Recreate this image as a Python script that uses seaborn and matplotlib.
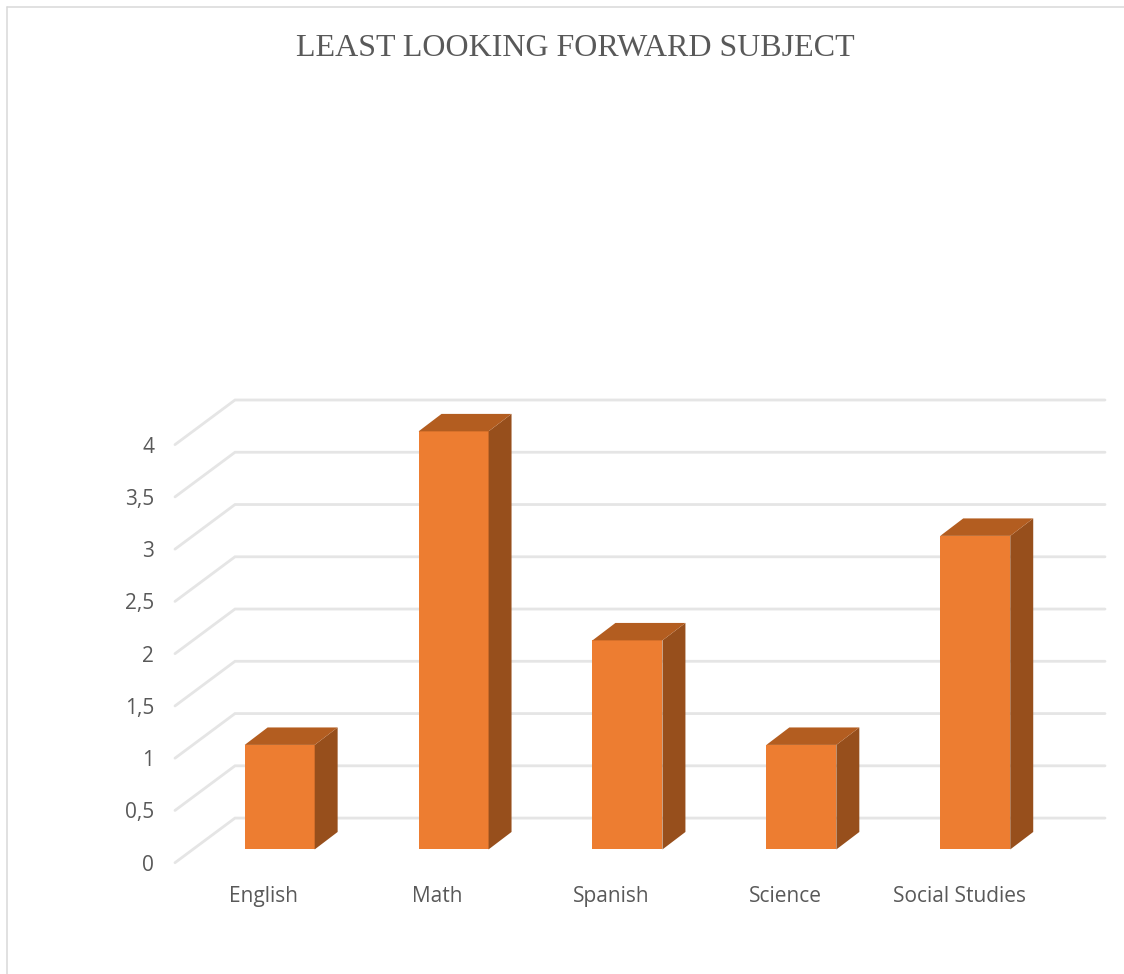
import matplotlib
matplotlib.use("Agg")
import matplotlib.pyplot as plt
from matplotlib.lines import Line2D
from matplotlib.patches import Polygon
import numpy as np
import pandas as pd
import seaborn as sns

subjects = ["English", "Math", "Spanish", "Science", "Social Studies"]
votes = [1, 4, 2, 1, 3]
y_ticks = [0, 0.5, 1, 1.5, 2, 2.5, 3, 3.5, 4]
y_labels = ["0", "0,5", "1", "1,5", "2", "2,5", "3", "3,5", "4"]

W, H = 1124, 974
TEXT = "#595959"
GRID = "#e5e5e5"
FRONT = "#ed7d31"
SIDE = "#974f1c"
TOP = "#b35d20"

# fake 3D depth, in data units
DX, DY = 0.132, 0.167
WALL_UP, FLOOR_DOWN = 0.30, 0.127
X_LEFT, X_BACK, X_RIGHT = -0.602, -0.257, 4.746

sns.set_theme(style="white")
plt.rcParams["font.family"] = ["Open Sans", "DejaVu Sans"]

df = pd.DataFrame({"subject": subjects, "votes": votes})

fig = plt.figure(figsize=(W / 100, H / 100), dpi=100)
ax = fig.add_axes([175 / W, 1 - 862.7 / H, 930 / W, 462.7 / H])

sns.barplot(data=df, x="subject", y="votes", color=FRONT, saturation=1,
            width=0.4025, ax=ax, zorder=3, linewidth=0, edgecolor="none")

# back wall and left wall gridlines
for v in y_ticks:
    ax.plot([X_LEFT, X_BACK, X_RIGHT],
            [v - FLOOR_DOWN, v + WALL_UP, v + WALL_UP],
            color=GRID, lw=2, zorder=1, clip_on=False,
            solid_joinstyle="miter")

# side and top of each bar
for bar in list(ax.patches):
    x0 = bar.get_x()
    x1 = x0 + bar.get_width()
    h = bar.get_height()
    ax.add_patch(Polygon([(x1, 0), (x1 + DX, DY), (x1 + DX, h + DY), (x1, h)],
                         facecolor=SIDE, edgecolor="none", zorder=3))
    ax.add_patch(Polygon([(x0, h), (x0 + DX, h + DY), (x1 + DX, h + DY), (x1, h)],
                         facecolor=TOP, edgecolor="none", zorder=3))

ax.set_xlim(X_LEFT, X_RIGHT)
ax.set_ylim(-FLOOR_DOWN, 4 + WALL_UP)
ax.set_xticks(np.arange(len(subjects)) - 0.092)
ax.set_xticklabels(subjects)
ax.set_yticks(np.array(y_ticks) - FLOOR_DOWN)
ax.set_yticklabels(y_labels)
ax.set_xlabel("")
ax.set_ylabel("")
ax.tick_params(axis="x", length=0, pad=17, labelsize=15, labelcolor=TEXT)
ax.tick_params(axis="y", length=0, pad=15, labelsize=15, labelcolor=TEXT)
ax.patch.set_alpha(0)
sns.despine(ax=ax, left=True, bottom=True)

# chart border, only top and left are inside the crop
fig.add_artist(Line2D([6.7 / W, 1], [1 - 6.7 / H, 1 - 6.7 / H], color="#d9d9d9", lw=1.1))
fig.add_artist(Line2D([6.7 / W, 6.7 / W], [0, 1 - 6.7 / H], color="#d9d9d9", lw=1.1))

fig.text(575.5 / W, 1 - 48 / H, "LEAST LOOKING FORWARD SUBJECT", ha="center", va="center",
         color=TEXT, fontsize=23, family=["Liberation Serif", "DejaVu Serif"])

fig.savefig("out.png", dpi=100)
